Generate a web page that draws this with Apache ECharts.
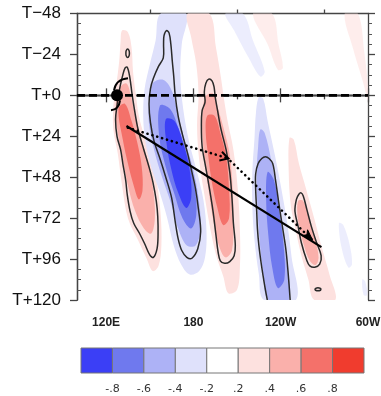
<!DOCTYPE html>
<html><head><meta charset="utf-8">
<script src="https://cdn.jsdelivr.net/npm/echarts@6/dist/echarts.min.js"></script>
<style>html,body{margin:0;padding:0;background:#fff}#c{width:381px;height:396px}</style>
</head><body><div id="c"></div>
<script>
// ---- axes / ticks ----
const lonTicks = [120, 180, 240, 300];
const lonLabels = ['120E', '180', '120W', '60W'];
const lonMinor = [150, 210, 270];
const hourTicks = [-48, -24, 0, 24, 48, 72, 96, 120];
const hourLabels = ['T\u221248', 'T\u221224', 'T+0', 'T+24', 'T+48', 'T+72', 'T+96', 'T+120'];
// ---- colour bar ----
const barLabels = ['-.8', '-.6', '-.4', '-.2', '.2', '.4', '.6', '.8'];
const barColors = ['#3b3ff6', '#6f79ee', '#adb2f6', '#dfe1fb', '#ffffff', '#fde1df', '#fab0ab', '#f4716a', '#f03c2e'];

// ---- filled regions [lon, hour] ----
const fillA1 = [[131,-38],[135,-37],[137.5,-28],[138.5,-14],[140.5,0],[142.5,12],[146.5,25],[150.5,37],[155,52],[157.5,70],[158,88],[156,100],[152,103],[148,96],[142,85],[135,72],[131,53],[128,34],[125,20],[125,6],[127,-6],[129,-20],[130,-32]];
const fillA2 = [[129,-4],[134,-7],[137.5,2],[140,12],[144,25],[149,40],[152.5,56],[153.5,72],[151,81],[146,78],[140,68],[135,53],[131.5,38],[128,22],[126.5,8]];
const fillA3 = [[128.5,8],[133,5],[137.5,15],[141.5,28],[144.5,42],[145,56],[142.5,61],[139,53],[135,40],[131.5,26]];
const fillB1 = [[157.5,-48],[175,-48],[172,-30],[171,-12],[173,8],[177,27],[182.5,45],[187,62],[189,80],[188,95],[184,103],[177.5,105],[171.5,99],[166.5,88],[162,72],[156.5,56],[151,42],[147,27],[145.5,12],[146.5,-4],[150,-18],[154,-32]];
const fillB2 = [[152,-7],[159.5,-9],[165.5,-2],[169,10],[173.5,25],[179.5,42],[183.5,60],[185,78],[181.5,88],[175.5,88],[169.5,78],[164.5,63],[158.5,48],[153,32],[149.5,17],[149.5,4]];
const fillB3 = [[157,6],[164,8],[170,20],[176,36],[181,55],[182,70],[178.5,78],[172.5,72],[167,58],[161,42],[156.5,24]];
const fillB4 = [[161,14],[167,15],[173,28],[177.5,44],[178.5,60],[175,66],[169.5,57],[165,44],[161.5,28]];
const fillC1 = [[176,-48],[191,-48],[195.5,-28],[199,-10],[201,2],[203.5,15],[207.5,32],[210.5,55],[212,80],[212,100],[210,114],[204,116],[200.5,106],[196,95],[192,80],[187.5,58],[184,38],[182.5,18],[183.5,0],[182,-18],[178.5,-34]];
const fillC2 = [[188,1],[193.5,-1],[197,8],[201,20],[205,35],[207,55],[207.5,75],[206.5,91],[202,95],[197.5,88],[194,75],[190.5,56],[187.5,36],[186,18]];
const fillC3 = [[189.5,12],[194.5,12],[198.5,22],[202.5,36],[204.5,55],[204.5,72],[200.5,76],[196.5,66],[192.5,50],[190,34],[188.5,22]];
const fillD0 = [[202,-48],[214,-48],[221,-32],[229,-14],[226,-11],[218,-22],[208,-38]];
const fillD1 = [[225,1],[228,2],[231,15],[236,35],[240.5,55],[244.5,75],[247.5,95],[250.5,120],[228.5,120],[225,105],[222,85],[220.5,65],[220.5,45],[222,25],[223,10]];
const fillD2 = [[226,20],[229,22],[233.5,38],[237,55],[240.5,75],[243.5,95],[245.5,120],[231.5,120],[228,105],[225.5,85],[224,65],[223.5,45],[224.5,30]];
const fillD3 = [[231,45],[235.5,50],[239,68],[242,88],[242.5,108],[238,113],[234,100],[231.5,82],[230,62]];
const fillE1 = [[246,25],[249,26],[252.5,40],[257.5,55],[263,72],[268.5,90],[273.5,105],[277.5,120],[263,120],[259,108],[254.5,95],[250.5,80],[247,65],[245.5,45]];
const fillE2 = [[252,62],[255.5,62],[259.5,72],[263.5,84],[266,95],[264,99.5],[260,97],[256,88],[253,78],[251.5,70]];
const fillF1 = [[280,75],[283,76],[287.5,88],[289,99],[286.5,101],[282,90]];
const fillF2 = [[296,108],[298,109],[299.5,117],[297,117]];
const fillF3 = [[284,-48],[293,-48],[297.5,-25],[300,-5],[300,3],[296.5,-8],[289.5,-28]];
const fillF4 = [[221,-48],[234,-48],[238.5,-30],[241.5,-16],[238,-15],[231,-30]];

// [region, level (-4..-1 blue, 1..4 red), weak (barely above threshold)]
const fills = [
  [fillA1, 1, 0], [fillB1, -1, 0], [fillC1, 1, 0], [fillD0, -1, 1], [fillD1, -1, 0], [fillE1, 1, 0],
  [fillF1, -1, 1], [fillF2, -1, 1], [fillF3, 1, 1], [fillF4, 1, 1],
  [fillA2, 2, 0], [fillB2, -2, 0], [fillC2, 2, 0], [fillD2, -2, 0], [fillE2, 2, 0],
  [fillA3, 3, 0], [fillB3, -3, 0], [fillC3, 3, 0], [fillD3, -3, 0],
  [fillB4, -4, 0]
];

// ---- contour lines ----
const contourA = [[134.5,-16.5],[136.2,-11],[137.8,-1],[139.5,8.4],[142,20],[146,32],[149.5,42],[152.2,51],[154.5,62],[155.5,71],[155.7,82],[155,90],[152.5,95],[150,93.5],[146.5,87],[143,81],[139,75],[136.5,68],[134.5,58],[133.5,50],[131.5,40],[130,32],[127.5,24],[126.5,14],[127.5,6],[128.5,0],[129.8,-6],[131.5,-12],[133,-16]];
const contourA0 = [[134.8,-27.2],[135.8,-26.2],[136,-24.7],[135.8,-23.2],[134.8,-22.2],[133.8,-23.2],[133.6,-24.7],[133.8,-26.2]];
const contourB = [[161.5,-38],[163.3,-36.5],[164.5,-30],[165.5,-20],[166.5,-11],[167.5,0],[169.5,12],[172.5,23],[176,34],[179,45],[181.5,55],[183.5,67],[185,80],[183,90],[179,95.5],[175.5,95],[172,91],[169.5,84],[167.5,74],[165,60],[161,48],[157,37],[153,27],[150.5,16],[149.5,5],[150.5,-4],[152.5,-10],[156,-17],[159.3,-22],[159.5,-30],[159.8,-35]];
const contourC = [[190.5,-9.5],[192.8,-8.5],[194.2,-5],[195,1],[196.5,8.4],[199,20],[202.5,32],[205,45],[206.5,60],[207.5,75],[208.8,88],[208,94],[205,97.5],[201.5,98.5],[198.5,97],[197,92],[195.5,82],[193.5,68],[190.5,52],[188,40],[186,30],[185.5,18],[186,9],[188,4],[187.5,-2],[188.5,-7]];
const contourD = [[230.8,120],[229.5,114],[228.3,108],[226.5,98],[225,88],[224,78],[223.5,68],[222.8,55],[222.8,46],[224.5,40],[227,37],[229.5,36],[232,37],[234.5,40],[236.5,50],[238.5,62],[241,76],[243.5,90],[245,103],[246,114],[246.5,120]];
const contourE = [[254,57.2],[255.5,59],[258,67],[261,76.7],[264.5,86],[267.8,94],[266.8,99],[263.4,100.8],[260,100],[258,97],[254.2,86.4],[252,77],[249.8,68],[250.8,61],[252.5,58]];
const contourE0 = [[265.6,112.8],[267.3,113.2],[267.6,113.7],[267.3,114.3],[265.6,114.6],[264,114.3],[263.6,113.7],[264,113.2]];
const contours = [[contourA, true], [contourA0, true], [contourB, true], [contourC, true], [contourD, false], [contourE, true], [contourE0, true]];

// ---- tracks ----
const refLine = [[100, 0], [300, 0]];
const solidTrack = [[134, 18], [268, 89]];
const dottedTrack1 = [[135, 19], [204, 37]];
const dottedTrack2 = [[205.5, 38.5], [262, 85]];
const cyclonePos = [127.5, 0];

const chart = echarts.init(document.getElementById('c'), null, {renderer: 'canvas'});
const axisLineStyle = {color: '#444', width: 1.3};
const baseX = {gridIndex: 0, type: 'value', min: 100, max: 300, splitLine: {show: false}, axisLine: {show: true, lineStyle: axisLineStyle}};
const baseY = {gridIndex: 0, type: 'value', min: -48, max: 120, interval: 24, inverse: true, splitLine: {show: false}, axisLine: {show: true, lineStyle: axisLineStyle}};

const option = {
  animation: false,
  backgroundColor: '#fff',
  grid: [
    {left: 77, right: 13, top: 13.5, bottom: 96, containLabel: false, outerBoundsMode: 'none'},
    {left: 81, top: 348, width: 283, height: 25, containLabel: false, outerBoundsMode: 'none'}
  ],
  xAxis: [
    Object.assign({}, baseX, {position: 'bottom',
      axisTick: {show: true, length: 7, customValues: lonTicks, lineStyle: {color: '#444', width: 1.3}},
      axisLabel: {show: true, customValues: lonTicks, margin: 17, fontSize: 12, fontWeight: 'bold', color: '#222', fontFamily: 'Liberation Sans',
        formatter: v => lonLabels[lonTicks.indexOf(v)] || ''}}),
    Object.assign({}, baseX, {position: 'bottom',
      axisTick: {show: true, length: 4, customValues: lonMinor, lineStyle: {color: '#444', width: 1.3}}, axisLabel: {show: false}}),
    Object.assign({}, baseX, {position: 'top',
      axisTick: {show: true, length: 7, customValues: lonTicks, lineStyle: {color: '#444', width: 1.3}}, axisLabel: {show: false}}),
    Object.assign({}, baseX, {position: 'top',
      axisTick: {show: true, length: 4, customValues: lonMinor, lineStyle: {color: '#444', width: 1.3}}, axisLabel: {show: false}}),
    {gridIndex: 1, type: 'value', min: 0, max: 9, interval: 1, splitLine: {show: false}, axisLine: {show: false}, axisTick: {show: false},
      axisLabel: {show: true, margin: 11, fontSize: 11, color: '#333', fontFamily: 'DejaVu Sans', formatter: v => barLabels[v - 1] || ''}}
  ],
  yAxis: [
    Object.assign({}, baseY, {position: 'left',
      axisTick: {show: true, length: 7, lineStyle: {color: '#444', width: 1.3}},
      minorTick: {show: false},
      axisLabel: {show: true, margin: 16, fontSize: 17, color: '#111', fontFamily: 'Liberation Sans',
        formatter: v => hourLabels[hourTicks.indexOf(v)] || ''}}),
    Object.assign({}, baseY, {position: 'left',
      axisTick: {show: false, inside: true},
      minorTick: {show: true, splitNumber: 4, length: 4, lineStyle: {color: '#555', width: 1}},
      axisLabel: {show: false}}),
    Object.assign({}, baseY, {position: 'right',
      axisTick: {show: true, length: 7, lineStyle: {color: '#444', width: 1.3}},
      minorTick: {show: true, splitNumber: 4, length: 4, lineStyle: {color: '#555', width: 1}},
      axisLabel: {show: false}}),
    {gridIndex: 1, type: 'value', min: 0, max: 1, show: false}
  ],
  series: [
    {
      type: 'custom', xAxisIndex: 0, yAxisIndex: 0, clip: true, silent: true,
      data: fills.map(f => [f[0][0][0], f[0][0][1]]),
      renderItem: (params, api) => {
        const f = fills[params.dataIndex];
        return {type: 'polygon', shape: {points: f[0].map(p => api.coord(p)), smooth: 0.35},
          style: {fill: barColors[f[1] + 4], stroke: null, opacity: f[2] ? 0.6 : 1}};
      }
    },
    {
      type: 'custom', xAxisIndex: 0, yAxisIndex: 0, clip: true, silent: true,
      data: contours.map(c => [c[0][0][0], c[0][0][1]]),
      renderItem: (params, api) => {
        const c = contours[params.dataIndex];
        return {type: c[1] ? 'polygon' : 'polyline', shape: {points: c[0].map(p => api.coord(p)), smooth: 0.35},
          style: {fill: null, stroke: '#2a2a2a', lineWidth: 1.5}};
      }
    },
    {type: 'line', xAxisIndex: 0, yAxisIndex: 0, data: refLine, symbol: 'none', silent: true,
      lineStyle: {color: '#000', width: 2.6, type: [8, 4]}},
    {type: 'line', xAxisIndex: 0, yAxisIndex: 0, data: solidTrack, symbol: 'none', silent: true,
      lineStyle: {color: '#000', width: 2.2}},
    {type: 'line', xAxisIndex: 0, yAxisIndex: 0, data: dottedTrack1, symbol: 'none', silent: true,
      lineStyle: {color: '#000', width: 2.6, type: [0.1, 5], cap: 'round'}},
    {type: 'line', xAxisIndex: 0, yAxisIndex: 0, data: dottedTrack2, symbol: 'none', silent: true,
      lineStyle: {color: '#000', width: 2.6, type: [0.1, 5], cap: 'round'}},
    {
      type: 'custom', xAxisIndex: 0, yAxisIndex: 0, silent: true,
      data: [dottedTrack1[1], dottedTrack2[1]],
      renderItem: (params, api) => {
        const tr = params.dataIndex === 0 ? dottedTrack1 : dottedTrack2;
        const a = api.coord(tr[0]), b = api.coord(tr[1]);
        const ang = Math.atan2(b[1] - a[1], b[0] - a[0]);
        const rot = (dx, dy) => [b[0] + dx * Math.cos(ang) - dy * Math.sin(ang), b[1] + dx * Math.sin(ang) + dy * Math.cos(ang)];
        if (params.dataIndex === 0) {
          return {type: 'polyline', shape: {points: [rot(-8, -4.5), b, rot(-8, 4.5)]},
            style: {stroke: '#000', lineWidth: 2, fill: null}};
        }
        return {type: 'polygon', shape: {points: [b, rot(-11, -4), rot(-8, 0), rot(-11, 4)]},
          style: {fill: '#000', stroke: '#000', lineWidth: 1}};
      }
    },
    {
      type: 'custom', xAxisIndex: 0, yAxisIndex: 0, silent: true,
      data: [cyclonePos],
      renderItem: (params, api) => {
        const c = api.coord(cyclonePos);
        return {type: 'group', children: [
          {type: 'circle', shape: {cx: c[0], cy: c[1], r: 6}, style: {fill: '#000'}},
          {type: 'bezierCurve', shape: {x1: c[0] - 3, y1: c[1] - 5, cpx1: c[0] - 1, cpy1: c[1] - 16, x2: c[0] + 11, y2: c[1] - 17},
            style: {stroke: '#000', lineWidth: 2, fill: null}},
          {type: 'bezierCurve', shape: {x1: c[0] + 3, y1: c[1] + 5, cpx1: c[0] + 2, cpy1: c[1] + 14, x2: c[0] - 6, y2: c[1] + 15},
            style: {stroke: '#000', lineWidth: 2, fill: null}}
        ]};
      }
    },
    {
      type: 'custom', xAxisIndex: 4, yAxisIndex: 3, silent: true,
      data: barColors.map((c, i) => [i, 0]),
      renderItem: (params, api) => {
        const i = params.dataIndex;
        const p0 = api.coord([i, 1]), p1 = api.coord([i + 1, 0]);
        return {type: 'rect', shape: {x: p0[0], y: p0[1], width: p1[0] - p0[0], height: p1[1] - p0[1]},
          style: {fill: barColors[i], stroke: '#777', lineWidth: 1}};
      }
    }
  ]
};
chart.setOption(option);
</script>
</body></html>
